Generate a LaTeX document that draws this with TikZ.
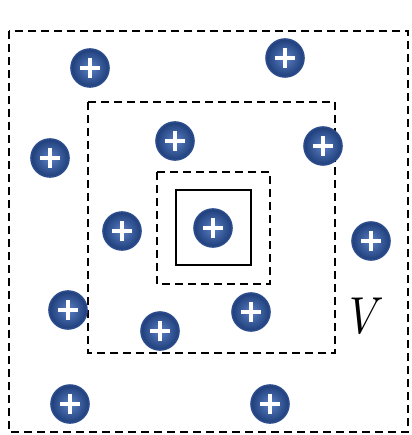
\documentclass[tikz,border=0pt]{standalone}
\usepackage{amsmath,amssymb}
\usepackage{graphicx}
\usepackage{tikz}
\usetikzlibrary{calc,positioning}
\usepackage{xcolor}
\definecolor{chargeedge}{HTML}{2B4C8C}
\definecolor{chargein}{HTML}{5A80C4}
\definecolor{chargeout}{HTML}{1F3E7A}

\tikzset{
  charge/.style={circle,minimum size=38pt,inner sep=0pt,draw=chargeedge,line width=1.6pt,
    inner color=chargein,outer color=chargeout,
    path picture={\draw[white,line width=3.6pt]
      ($(path picture bounding box.center)+(-10pt,0)$)--($(path picture bounding box.center)+(10pt,0)$)
      ($(path picture bounding box.center)+(0,-10pt)$)--($(path picture bounding box.center)+(0,10pt)$);}},
  surface/.style={dashed,line width=2.2pt,dash pattern=on 8pt off 5pt}
}

\begin{document}
\begin{tikzpicture}[x=1pt,y=-1pt]
\useasboundingbox (0,0) rectangle (411,435);
% Gaussian surfaces
\draw[surface] (9,31) rectangle (408,432);
\draw[surface] (88,102) rectangle (335,353);
\draw[surface] (157,172) rectangle (270,284);
\draw[line width=2.4pt] (176,190) rectangle (251,265);
% charges
\node[charge] (q1) at (90,68) {};
\node[charge] (q2) at (285,58) {};
\node[charge] (q3) at (50,158) {};
\node[charge] (q4) at (175,141) {};
\node[charge] (q5) at (323,146) {};
\node[charge] (q6) at (122,231) {};
\node[charge] (q7) at (213,228) {};
\node[charge] (q8) at (371,241) {};
\node[charge] (q9) at (68,310) {};
\node[charge] (q10) at (160,331) {};
\node[charge] (q11) at (251,312) {};
\node[charge] (q12) at (70,404) {};
\node[charge] (q13) at (270,404) {};
\node (vol) at (367,316) {\scalebox{4.3}[5.2]{$V$}};
\end{tikzpicture}
\end{document}
